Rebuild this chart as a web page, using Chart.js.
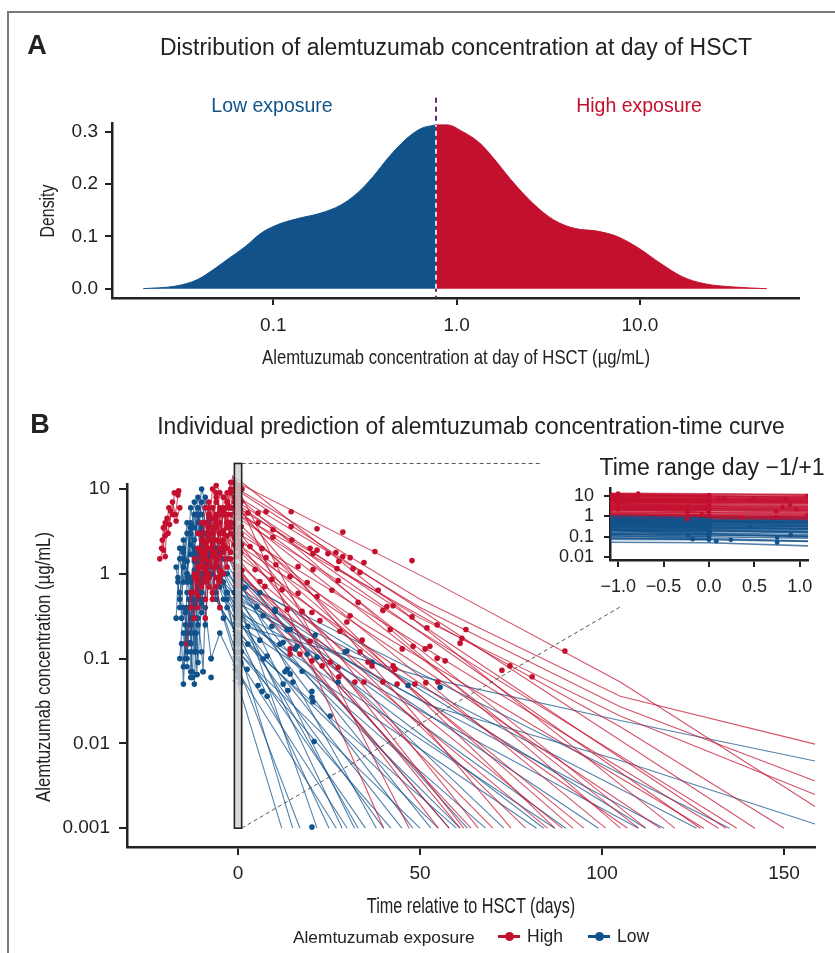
<!DOCTYPE html>
<html><head><meta charset="utf-8">
<script src="https://cdn.jsdelivr.net/npm/chart.js@4.4.1/dist/chart.umd.min.js"></script>
<style>
html,body{margin:0;padding:0;background:#fff;}
body{width:835px;height:953px;position:relative;overflow:hidden;font-family:"Liberation Sans",Arial,Helvetica,sans-serif;color:#222;}
.frame{position:absolute;left:7px;top:11px;width:840px;height:950px;border-left:2px solid #7a7a7a;border-top:2px solid #7a7a7a;}
canvas{position:absolute;}
.t{position:absolute;white-space:nowrap;line-height:1;}
</style></head><body>
<div class="frame"></div>
<canvas id="ca" width="835" height="380" style="left:0;top:0"></canvas>
<canvas id="cb" width="835" height="573" style="left:0;top:380px"></canvas>
<canvas id="ci" width="295" height="170" style="left:540px;top:440px"></canvas>
<script>
// ---------------- Panel A data ----------------
const densLowX  = [0.0195,0.0294,0.0384,0.0469,0.0573,0.0701,0.0857,0.105,0.136,0.180,0.234,0.286,0.350,0.428,0.523,0.639,0.772];
const densLowY  = [0,0.005,0.017,0.036,0.058,0.080,0.106,0.122,0.134,0.144,0.160,0.182,0.214,0.252,0.284,0.306,0.313];
const densHighX = [0.772,0.887,1.08,1.34,1.62,1.98,2.61,3.40,4.43,5.83,7.60,9.89,13.0,17.0,22.1,33.0,49.3];
const densHighY = [0.313,0.313,0.300,0.278,0.246,0.208,0.163,0.131,0.115,0.110,0.099,0.077,0.048,0.023,0.010,0.003,0];
const cutoff = 0.772;
const aXTicks = [0.1,1,10], aXLabels = ['0.1','1.0','10.0'];
const aYTicks = [0,0.1,0.2,0.3], aYLabels = ['0.0','0.1','0.2','0.3'];

// ---------------- Panel B data ----------------
// observed concentrations [day, ug/mL]
const highObs = [[2.7,5.2],[5.5,5.2],[7.7,5.4],[14.6,5.4],[5.5,4.0],[9.6,3.3],[14.6,3.6],[21.7,3.4],[28.8,3.1],[9.6,2.7],[14.8,2.5],[19.8,2.0],[21.7,1.9],[24.7,1.73],[26.9,1.78],[28.8,1.6],[30.8,1.55],[37.6,1.83],[47.8,1.43],[34.6,1.36],[27.7,1.4],[20.6,1.73],[16.5,1.22],[20.6,1.12],[27.2,1.15],[31.6,1.15],[33.5,1.04],[3.3,2.1],[6.6,1.98],[7.7,1.55],[10.4,1.28],[14.3,0.93],[19.0,0.79],[27.5,0.83],[38.5,0.64],[33.0,0.46],[40.9,0.41],[42.6,0.42],[47.8,0.31],[39.8,0.37],[30.8,0.32],[41.8,0.22],[51.9,0.23],[54.7,0.25],[21.7,0.54],[25.8,0.64],[16.5,0.59],[12.1,0.65],[13.5,0.38],[17.6,0.36],[20.3,0.35],[22.5,0.28],[28.0,0.21],[29.9,0.27],[34.1,0.165],[45.1,0.13],[48.1,0.14],[51.4,0.13],[52.7,0.14],[14.3,0.13],[19.8,0.16],[7.4,0.71],[6.0,0.81],[4.7,1.12],[9.3,0.86],[14.3,0.113],[17.0,0.113],[20.3,0.094],[23.1,0.082],[25.3,0.091],[27.5,0.079],[32.1,0.053],[34.6,0.053],[39.8,0.053],[43.7,0.050],[48.6,0.050],[51.6,0.052],[54.9,0.053],[35.7,0.091],[36.8,0.082],[42.6,0.082],[43.1,0.075],[27.7,0.061],[33.5,0.12],[62.6,0.22],[61.5,0.174],[61.0,0.152],[54.7,0.101],[56.9,0.094],[72.5,0.073],[74.7,0.082],[80.8,0.061],[89.8,0.123],
  [-1.05,10],[-0.96,9.5],[-0.81,10],[-0.78,13],[-0.24,2.9],[-0.24,1.6],[-0.24,0.74],[-0.12,7],[-0.03,2.3],[-0.08,1.2],[0.1,7],[0.17,8],[0.44,6],[0.49,7],[0.36,0.9],[0.74,1.8],[0.74,0.9],[0.81,2.9],[0.84,7],[0.89,3.6],[0.96,2.2],[1.08,10],[1.08,1.1]];
const lowObs = [[2.5,0.075],[5.5,0.048],[6.6,0.041],[8.0,0.036],[6.9,0.099],[8.0,0.107],[13.5,0.075],[14.3,0.066],[12.9,0.070],[15.1,0.053],[17.6,0.071],[13.7,0.042],[20.3,0.041],[20.3,0.035],[20.6,0.031],[25.3,0.021],[27.5,0.053],[20.9,0.0105],[20.3,0.00103],[19.0,0.113],[21.7,0.104],[29.9,0.123],[36.8,0.091],[46.7,0.048],[12.4,0.050],[1.9,0.69],[5.2,0.41],[2.7,0.24],[6.9,0.32],[10.2,0.36],[14.3,0.22],[21.2,0.19],[12.4,0.156],[15.7,0.13],[29.4,0.12],[2.7,0.148],[6.0,0.165],[9.3,0.24],[11.5,0.148],[55.5,0.046],[6.0,0.60],[10.2,0.38],[13.5,0.22],[16.2,0.14],
  [-12.6,0.07],[-11.3,0.065],[-9.6,0.07],[-7.4,0.1],[-7.4,0.06],[-13.2,0.155],
  [-0.23,0.117],[-0.18,0.075],[0.08,0.06],[0.24,0.07],[0.75,0.09],[0.75,0.052],[0.9,0.12],[-0.03,0.3],[0.01,0.17],[0.45,0.3],[-1.05,0.6]];

// individual predictions before HSCT (dosing period)
const highPre = [
 [[-21,2],[-20.5,3.5],[-20,2.8],[-19,6],[-18,5],[-17.5,9],[-16.5,8.5]],
 [[-21.5,1.5],[-20.5,1.9],[-20,4],[-19.2,3],[-18.5,5.5],[-17,4.2],[-16,6]],
 [[-20.8,2.5],[-20,1.6],[-19.5,4.5],[-18.8,3.8],[-18,7],[-17.2,5],[-16.3,9.5]],
 [[-12,0.6],[-11,2],[-10,1.2],[-9,4],[-8,2.5],[-7,6],[-6,4],[-5,9],[-3,7],[0,5]],
 [[-10,1.5],[-9,0.8],[-8,3],[-7,1.8],[-6,5],[-5,3],[-4,8],[-2,6],[0,4.5]],
 [[-9,0.5],[-8.5,1.2],[-8,0.7],[-7,2.2],[-6,1.3],[-5,4],[-4,2.5],[-3,7],[0,5.5]],
 [[-11,3],[-10,1.8],[-9,6],[-8,3.5],[-7,10],[-6,7],[-4,5],[-2,12],[0,9]],
 [[-8,1],[-7,0.5],[-6,1.8],[-5,1.1],[-4,3.2],[-3,2],[-2,5],[0,3.5]],
 [[-7,2.5],[-6,1.5],[-5,5],[-4,3],[-3,9],[-2,6],[-1,13],[0,11]],
 [[-12,0.9],[-11,0.4],[-10,1.6],[-9,0.9],[-8,2.8],[-7,1.6],[-6,4.5],[-4,3],[0,2]],
 [[-6,0.7],[-5,1.6],[-4,1],[-3,2.8],[-2,1.8],[-1,4],[0,3]],
 [[-13,0.4],[-12,1],[-11,0.55],[-10,1.9],[-9,1.1],[-8,3.6],[-6,2.5],[-3,1.5],[0,1.2]],
 [[-10,4],[-9,2.3],[-8,7],[-7,4.5],[-6,11],[-4,8],[-2,6],[0,7.5]],
 [[-9,0.3],[-8,0.9],[-7,0.5],[-6,1.5],[-5,0.9],[-4,2.2],[-2,1.5],[0,1]],
 [[-14,0.15],[-13,0.6],[-12,0.3],[-11,1.2],[-10,0.7],[-9,2.4],[-8,1.4],[-6,0.9],[-5,0.4]],
 [[-3,6],[-2,10],[-1.5,14],[-1,12],[0,10]],
 [[-8,2],[-7,1.2],[-6,3.5],[-5,2],[-4,6],[-3,4],[-2,9],[-1,7],[0,6]],
 [[-11,0.8],[-10,2.5],[-9,1.5],[-8,5],[-7,3],[-6,8],[-5,5.5],[-3,4],[0,3]],
 [[-7,0.6],[-6,1.4],[-5,0.8],[-4,2],[-3,1.2],[-2,3],[-1,2.2],[0,1.6]],
 [[-5,3],[-4,1.8],[-3,5],[-2,3.5],[-1,8],[0,6.5]],
 [[-12,1.5],[-11,0.9],[-10,3],[-9,1.8],[-8,6],[-7,3.5],[-6,9],[-5,6],[-2,4],[0,2.5]],
 [[-9,1.2],[-8,2.8],[-7,1.7],[-6,4],[-5,2.4],[-4,5.5],[-3,3.5],[-1,2.7],[0,2.2]]
];
const lowPre = [
 [[-16,0.6],[-15.5,0.3],[-15,1.5],[-14,0.8],[-13,3],[-12,1.8],[-11,5],[-10,2.5],[-6,1.2],[-3,0.6],[0,0.4]],
 [[-15,0.2],[-14.5,0.1],[-14,0.9],[-13,0.5],[-12,2],[-11,1.2],[-10,3.5],[-9,2],[-5,0.9],[0,0.5]],
 [[-14,0.08],[-13.5,0.4],[-13,0.15],[-12,1],[-11,0.6],[-10,2.2],[-9,1.3],[-8,4],[-4,1.5],[0,0.8]],
 [[-17,1.2],[-16,0.5],[-15,2.5],[-14,1.4],[-13,6],[-12,3.5],[-11,8],[-10,5],[-7,2],[-3,1],[0,0.7]],
 [[-13,0.06],[-12.5,0.3],[-12,0.12],[-11,0.7],[-10,0.35],[-9,1.5],[-8,0.9],[-7,2.5],[-4,0.8],[0,0.35]],
 [[-15.5,0.15],[-15,0.05],[-14,0.4],[-13,0.2],[-12,1.1],[-11,0.5],[-10,2],[-9,1],[-5,0.4],[0,0.2]],
 [[-16.5,0.9],[-16,2],[-15,1.2],[-14,4],[-13,2.2],[-12,7],[-11,4],[-10,10],[-8,5],[-4,2],[0,0.9]],
 [[-14.5,0.35],[-14,0.12],[-13,0.8],[-12,0.4],[-11,1.8],[-10,0.9],[-9,3],[-8,1.6],[-4,0.5],[0,0.25]],
 [[-12,0.05],[-11.5,0.2],[-11,0.09],[-10,0.5],[-9,0.25],[-8,1.2],[-7,0.6],[-6,2],[-3,0.4],[0,0.15]],
 [[-15,2],[-14,1],[-13,4],[-12,2.5],[-11,6],[-10,3.5],[-9,8],[-8,4.5],[-5,1.8],[0,0.6]],
 [[-13.5,0.5],[-13,0.25],[-12,1.4],[-11,0.7],[-10,2.8],[-9,1.5],[-8,3.5],[-7,2],[-3,0.5],[0,0.12]],
 [[-16,0.1],[-15,0.4],[-14,0.2],[-13,0.9],[-12,0.45],[-11,1.6],[-10,0.8],[-9,2.4],[-6,0.6],[0,0.1]],
 [[-13,0.07],[-12.6,0.5],[-12,0.2],[-11.3,0.065],[-11,0.3],[-10,0.12],[-9.6,0.07],[-9,0.4],[-7.4,0.1],[-5,0.2],[0,0.07]],
 [[-17,0.3],[-16.5,0.8],[-16,0.4],[-15,1.8],[-14,1],[-13,3.5],[-12,2],[-11,5],[-9,2],[-5,0.7],[0,0.3]],
 [[-14,0.6],[-13,0.3],[-12,1.6],[-11,0.9],[-10,3.2],[-9,1.8],[-8,5],[-7,3],[-4,1],[0,0.45]],
 [[-15,0.08],[-14.5,0.25],[-14,0.1],[-13,0.6],[-12,0.3],[-11,1.3],[-10,0.6],[-9,2],[-6,0.5],[0,0.18]],
 [[-12,0.3],[-11.5,0.12],[-11,0.9],[-10,0.45],[-9,1.8],[-8,0.9],[-7,3],[-6,1.6],[-3,0.6],[0,0.3]],
 [[-16,1.5],[-15,0.8],[-14,3],[-13,1.7],[-12,5],[-11,3],[-10,7],[-9,4],[-6,1.5],[0,0.55]],
 [[-13,0.12],[-12.5,0.06],[-12,0.5],[-11,0.25],[-10,1],[-9,0.5],[-8,1.8],[-7,1],[-4,0.3],[0,0.08]]
];
// individual predictions after HSCT [day, ug/mL]
const highCurves = [
 [[-1.5,12.5],[0,11.8],[55,0.75],[105,0.053],[158.5,0.0018]],
 [[-1.5,10.4],[0,10],[50,0.5],[105,0.036],[158.5,0.0098]],
 [[-1.5,8.3],[0,8],[50,0.4],[105,0.027],[158.5,0.0036]],
 [[-1.5,6.3],[0,6],[50,0.3],[105,0.021],[158.5,0.0025]],
 [[-1.5,5.3],[0,5],[105,0.0157],[150,0.001]],
 [[-1.5,9.9],[0,9.5],[142,0.001]],
 [[-1.5,4.7],[0,4.5],[137,0.001]],
 [[-1.5,7.3],[0,7],[134,0.001]],
 [[-1.5,3.1],[0,3],[132,0.001]],
 [[-1.5,6.8],[0,6.5],[127,0.001]],
 [[-1.5,2.3],[0,2.2],[116,0.001]],
 [[-1.5,5.2],[0,5],[110,0.001]],
 [[-1.5,1.7],[0,1.6],[107,0.001]],
 [[-1.5,8.4],[0,8],[105,0.001]],
 [[-1.5,3.7],[0,3.5],[101,0.001]],
 [[-1.5,2.8],[0,2.7],[92,0.001]],
 [[-1.5,1.35],[0,1.3],[89,0.001]],
 [[-1.5,4.2],[0,4],[87,0.001]],
 [[-1.5,2.0],[0,1.9],[79,0.001]],
 [[-1.5,6.3],[0,6],[75,0.001]],
 [[-1.5,1.15],[0,1.1],[70,0.001]],
 [[-1.5,3.3],[0,3.2],[66,0.001]],
 [[-1.5,0.95],[0,0.9],[64,0.001]],
 [[-1.5,2.5],[0,2.4],[62,0.001]],
 [[-1.5,1.55],[0,1.5],[61,0.001]],
 [[-1.5,0.85],[0,0.8],[58,0.001]],
 [[-1.5,1.25],[0,1.2],[55,0.001]],
 [[-1.5,10.5],[0,10],[47,0.001]],
 [[-1.5,7.8],[0,7.5],[40,0.001]],
 [[-1.5,2.1],[0,2],[95,0.001]],
 [[-1.5,1.05],[0,1],[85,0.001]],
 [[-1.5,14],[0,13],[120,0.001]],
 [[-1.5,2.6],[0,2.5],[35,0.25],[128,0.001]],
 [[-1.5,5.8],[0,5.5],[25,0.9],[112,0.001]]
];
const lowCurves = [
 [[-1.5,0.26],[0,0.25],[52.7,0.058],[105,0.0186],[158.5,0.0062]],
 [[-1.5,0.52],[0,0.5],[52.7,0.028],[105,0.0063],[158.5,0.00112]],
 [[-1.5,0.85],[0,0.8],[135,0.001]],
 [[-1.5,0.63],[0,0.6],[126,0.001]],
 [[-1.5,0.47],[0,0.45],[117,0.001]],
 [[-1.5,0.95],[0,0.9],[112,0.001]],
 [[-1.5,0.37],[0,0.35],[110,0.001]],
 [[-1.5,0.73],[0,0.7],[99,0.001]],
 [[-1.5,0.32],[0,0.3],[87,0.001]],
 [[-1.5,0.58],[0,0.55],[84,0.001]],
 [[-1.5,0.27],[0,0.25],[82,0.001]],
 [[-1.5,1.05],[0,1.0],[63,0.001]],
 [[-1.5,0.42],[0,0.4],[61,0.001]],
 [[-1.5,0.19],[0,0.18],[60,0.001]],
 [[-1.5,0.68],[0,0.65],[53,0.001]],
 [[-1.5,0.13],[0,0.12],[50,0.001]],
 [[-1.5,0.53],[0,0.5],[48,0.001]],
 [[-1.5,0.23],[0,0.22],[40,0.001]],
 [[-1.5,0.9],[0,0.85],[38,0.001]],
 [[-1.5,0.16],[0,0.15],[35,0.001]],
 [[-1.5,0.32],[0,0.3],[33,0.001]],
 [[-1.5,0.63],[0,0.6],[32,0.001]],
 [[-1.5,0.105],[0,0.1],[30,0.001]],
 [[-1.5,0.42],[0,0.4],[28.6,0.001]],
 [[-1.5,0.075],[0,0.07],[27,0.001]],
 [[-1.5,0.21],[0,0.2],[25,0.001]],
 [[-1.5,0.53],[0,0.5],[21.7,0.001]],
 [[-1.5,0.085],[0,0.08],[17,0.001]],
 [[-1.5,0.15],[0,0.14],[15,0.001]],
 [[-1.5,0.055],[0,0.05],[12,0.001]],
 [[-1.5,0.79],[0,0.75],[58,0.001]],
 [[-1.5,0.3],[0,0.28],[45,0.001]],
 [[-1.5,1.0],[0,0.95],[73,0.001]],
 [[-1.5,0.37],[0,0.35],[68,0.001]],
 [[-1.5,0.13],[0,0.12],[42,0.001]],
 [[-1.5,0.63],[0,0.6],[90,0.001]],
 [[-1.5,0.21],[0,0.2],[55,0.001]]
];
const bXTicks = [0,50,100,150];
const bYTicks = [0.001,0.01,0.1,1,10], bYLabels = ['0.001','0.01','0.1','1','10'];
const zoomDays = [-1,1], zoomConc = [0.001,20];
const insetXTicks = [-1,-0.5,0,0.5,1], insetXLabels = ['\u22121.0','\u22120.5','0.0','0.5','1.0'];
const insetYTicks = [0.01,0.1,1,10], insetYLabels = ['0.01','0.1','1','10'];

// ---------------- styles ----------------
const RED = '#C4102F', BLUE = '#12528A';
const REDL = 'rgba(196,16,47,0.72)', BLUEL = 'rgba(18,82,138,0.72)';
const INK = '#222';
Chart.defaults.font.family = '"Liberation Sans", Arial, Helvetica, sans-serif';
Chart.defaults.color = INK;

function axisStyle(tickLen, fontSize, pad) {
  return {
    grid: {drawOnChartArea: false, drawTicks: true, tickLength: tickLen, color: INK, lineWidth: 2},
    border: {display: true, color: INK, width: 2.5},
    ticks: {font: {size: fontSize}, color: INK, padding: pad, autoSkip: false, maxRotation: 0}
  };
}
function setTicks(vals) { return (s) => { s.ticks = vals.map(v => ({value: v})); }; }

// ---------------- Chart A ----------------
const toXY = (xs, ys) => xs.map((x, i) => ({x, y: ys[i]}));
const sa = axisStyle(7, 19, 9);
const say = axisStyle(7, 19, 7);
new Chart(document.getElementById('ca'), {
  type: 'line',
  data: {datasets: [
    {data: toXY(densLowX, densLowY), backgroundColor: BLUE, borderColor: BLUE, borderWidth: 1, fill: {value: 0}, pointRadius: 0, cubicInterpolationMode: 'monotone'},
    {data: toXY(densHighX, densHighY), backgroundColor: RED, borderColor: RED, borderWidth: 1, fill: {value: 0}, pointRadius: 0, cubicInterpolationMode: 'monotone'}
  ]},
  options: {
    responsive: false, animation: false, devicePixelRatio: 1, events: [],
    layout: {padding: {left: 0, top: 123, right: 36, bottom: 0}},
    plugins: {legend: {display: false}, tooltip: {enabled: false}},
    scales: {
      x: Object.assign({type: 'logarithmic', min: 0.01318, max: 73.8,
          afterFit: (s) => { s.height = 82; }, afterBuildTicks: setTicks(aXTicks)}, sa,
          {ticks: Object.assign({}, sa.ticks, {callback: (v, i) => aXLabels[i]})}),
      y: Object.assign({type: 'linear', min: -0.0178, max: 0.3166,
          afterFit: (s) => { s.width = 112; }, afterBuildTicks: setTicks(aYTicks)}, say,
          {ticks: Object.assign({}, say.ticks, {callback: (v, i) => aYLabels[i]})})
    }
  },
  plugins: [{
    id: 'cutline',
    beforeDatasetsDraw(chart) {
      const {ctx, scales: {x, y}, chartArea} = chart;
      const px = x.getPixelForValue(cutoff);
      ctx.save(); ctx.strokeStyle = '#5E2A6E'; ctx.lineWidth = 2; ctx.setLineDash([5, 4]);
      ctx.beginPath(); ctx.moveTo(px, y.getPixelForValue(0.365)); ctx.lineTo(px, chartArea.bottom); ctx.stroke();
      ctx.restore();
    },
    afterDatasetsDraw(chart) {
      const {ctx, scales: {x, y}} = chart;
      const px = x.getPixelForValue(cutoff);
      ctx.save(); ctx.strokeStyle = '#ffffff'; ctx.lineWidth = 1.6; ctx.setLineDash([5, 4]);
      ctx.beginPath(); ctx.moveTo(px, y.getPixelForValue(0)); ctx.lineTo(px, y.getPixelForValue(0.313)); ctx.stroke();
      ctx.restore();
    }
  }]
});

// ---------------- Chart B datasets ----------------
function lineDs(pts, color, pcolor, r, w, clip) {
  const d = {data: pts.map(p => ({x: p[0], y: p[1]})), borderColor: color, borderWidth: w, pointRadius: r,
    pointBackgroundColor: pcolor, pointBorderWidth: 0, pointHoverRadius: 0, fill: false, tension: 0};
  if (clip !== undefined) d.clip = clip;
  return d;
}
function scatDs(pts, color, r, clip) {
  const d = {data: pts.map(p => ({x: p[0], y: p[1]})), showLine: false, pointRadius: r,
    pointBackgroundColor: color, pointBorderWidth: 0, pointHoverRadius: 0, borderColor: color};
  if (clip !== undefined) d.clip = clip;
  return d;
}
function buildDatasets(clip, r, w) {
  const d = [];
  d.push(scatDs(highObs, RED, r, clip));
  d.push(scatDs(lowObs, BLUE, r, clip));
  highPre.forEach(p => d.push(lineDs(p, REDL, RED, r, w, clip)));
  lowPre.forEach(p => d.push(lineDs(p, BLUEL, BLUE, r, w, clip)));
  highCurves.forEach(p => d.push(lineDs(p, REDL, RED, 0, w, clip)));
  lowCurves.forEach(p => d.push(lineDs(p, BLUEL, BLUE, 0, w, clip)));
  return d;
}

// ---------------- Chart B ----------------
const sbx = axisStyle(8, 19, 7);
const sby = axisStyle(8, 19, 9);
new Chart(document.getElementById('cb'), {
  type: 'line',
  data: {datasets: buildDatasets(false, 2.8, 1.1)},
  options: {
    responsive: false, animation: false, devicePixelRatio: 1, events: [],
    layout: {padding: {left: 0, top: 104, right: 20, bottom: 0}},
    plugins: {legend: {display: false}, tooltip: {enabled: false}},
    scales: {
      x: Object.assign({type: 'linear', min: -30.5, max: 158.5,
          afterFit: (s) => { s.height = 106; }, afterBuildTicks: setTicks(bXTicks)}, sbx,
          {ticks: Object.assign({}, sbx.ticks, {callback: (v) => String(v)})}),
      y: Object.assign({type: 'logarithmic', min: 0.000635, max: 11.45,
          afterFit: (s) => { s.width = 127; }, afterBuildTicks: setTicks(bYTicks)}, sby,
          {ticks: Object.assign({}, sby.ticks, {callback: (v, i) => bYLabels[i]})})
    }
  },
  plugins: [{
    id: 'zoombox',
    afterDatasetsDraw(chart) {
      const {ctx, scales: {x, y}} = chart;
      const x0 = x.getPixelForValue(zoomDays[0]), x1 = x.getPixelForValue(zoomDays[1]);
      const yT = y.getPixelForValue(zoomConc[1]), yB = y.getPixelForValue(zoomConc[0]);
      ctx.save();
      ctx.fillStyle = 'rgba(208,208,208,0.8)';
      ctx.fillRect(x0, yT, x1 - x0, yB - yT);
      ctx.strokeStyle = INK; ctx.lineWidth = 1.6;
      ctx.strokeRect(x0, yT, x1 - x0, yB - yT);
      ctx.setLineDash([4, 3]); ctx.strokeStyle = '#555'; ctx.lineWidth = 1;
      ctx.beginPath();
      ctx.moveTo(x1, yT); ctx.lineTo(540, yT);
      ctx.moveTo(x1, yB); ctx.lineTo(620, 227);
      ctx.stroke();
      ctx.restore();
    }
  }]
});

// ---------------- Inset ----------------
const six = axisStyle(7, 18, 9);
const siy = axisStyle(6, 18, 10);
new Chart(document.getElementById('ci'), {
  type: 'line',
  data: {datasets: buildDatasets(undefined, 2.4, 1.6)},
  options: {
    responsive: false, animation: false, devicePixelRatio: 1, events: [],
    layout: {padding: {left: 0, top: 48, right: 27, bottom: 0}},
    plugins: {legend: {display: false}, tooltip: {enabled: false}},
    scales: {
      x: Object.assign({type: 'linear', min: -1.09, max: 1.09,
          afterFit: (s) => { s.height = 50; }, afterBuildTicks: setTicks(insetXTicks)}, six,
          {ticks: Object.assign({}, six.ticks, {callback: (v, i) => insetXLabels[i]})}),
      y: Object.assign({type: 'logarithmic', min: 0.0071, max: 25,
          afterFit: (s) => { s.width = 70; }, afterBuildTicks: setTicks(insetYTicks)}, siy,
          {ticks: Object.assign({}, siy.ticks, {callback: (v, i) => insetYLabels[i]})})
    }
  }
});

// ---------------- Text ----------------
function label(s, cx, cy, size, o) {
  o = o || {};
  const d = document.createElement('div');
  d.className = 't'; d.textContent = s;
  d.style.fontSize = size + 'px';
  if (o.bold) d.style.fontWeight = 'bold';
  d.style.color = o.color || INK;
  document.body.appendChild(d);
  const w = d.offsetWidth;
  const sx = o.w ? o.w / w : 1;
  d.style.left = cx + 'px'; d.style.top = cy + 'px';
  d.style.transformOrigin = o.left ? '0 50%' : '50% 50%';
  d.style.transform = 'translate(' + (o.left ? '0' : '-50%') + ',-50%) rotate(' + (o.rot || 0) + 'deg) scaleX(' + sx + ')';
}
label('A', 37, 45, 27, {bold: true});
label('Distribution of alemtuzumab concentration at day of HSCT', 456, 47, 23, {w: 592});
label('Low exposure', 272, 106, 19.5, {color: BLUE});
label('High exposure', 639, 106, 19.5, {color: RED});
label('Density', 47, 211, 20, {rot: -90, w: 53});
label('Alemtuzumab concentration at day of HSCT (\u00b5g/mL)', 456, 356, 21, {w: 388});
label('B', 40, 424, 27, {bold: true});
label('Individual prediction of alemtuzumab concentration-time curve', 471, 426, 23, {w: 628});
label('Time range day \u22121/+1', 712, 467, 23, {w: 225});
label('Alemtuzumab concentration (\u00b5g/mL)', 42, 667, 21, {rot: -90, w: 270});
label('Time relative to HSCT (days)', 471, 906, 22, {w: 208});
label('Alemtuzumab exposure', 293, 937, 17, {left: true, w: 182});
label('High', 527, 937, 17.5, {left: true});
label('Low', 617, 937, 17.5, {left: true});
function key(x, color) {
  const l = document.createElement('div');
  l.style.cssText = 'position:absolute;left:' + x + 'px;top:935px;width:22px;height:3px;background:' + color;
  const c = document.createElement('div');
  c.style.cssText = 'position:absolute;left:' + (x + 6.5) + 'px;top:932px;width:9px;height:9px;border-radius:50%;background:' + color;
  document.body.appendChild(l); document.body.appendChild(c);
}
key(498, RED); key(588, BLUE);
</script>
</body></html>
